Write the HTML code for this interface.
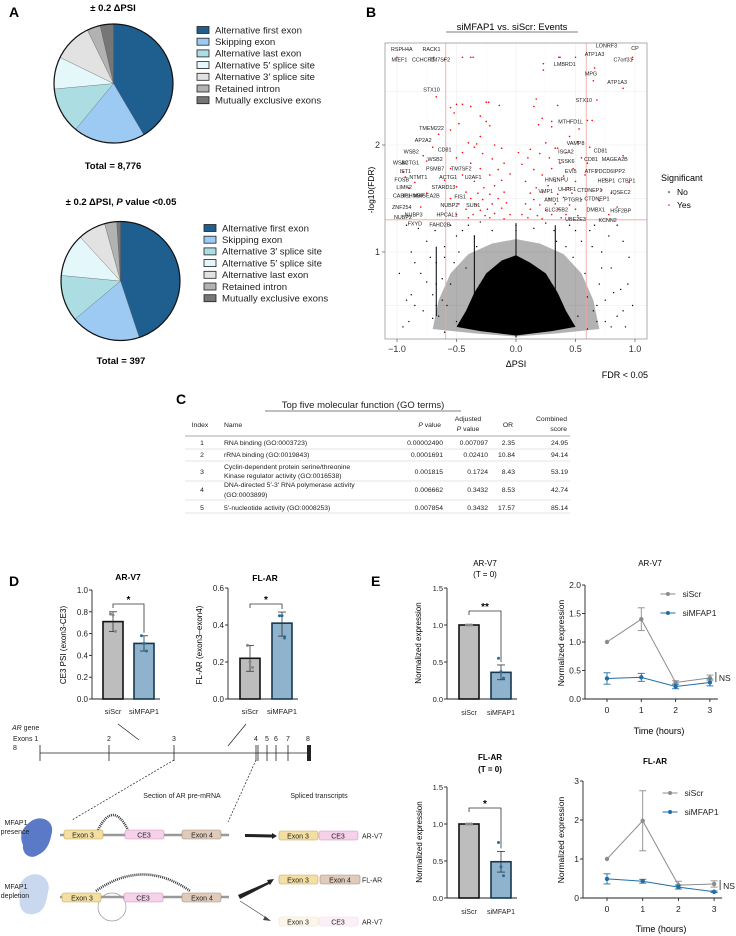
<!DOCTYPE html>
<html><head><meta charset="utf-8">
<style>
html,body{margin:0;padding:0;background:#fff;}
svg{display:block;font-family:"Liberation Sans",Arial,sans-serif;}
</style></head>
<body>
<svg id="fig" width="736" height="936" viewBox="0 0 736 936" xmlns="http://www.w3.org/2000/svg">
<rect x="0" y="0" width="736" height="936" fill="#fff"/>
<text x="9" y="17" font-size="14" font-weight="bold">A</text>
<text x="366" y="17" font-size="14" font-weight="bold">B</text>
<text x="176" y="404" font-size="14" font-weight="bold">C</text>
<text x="9" y="586" font-size="14" font-weight="bold">D</text>
<text x="371" y="586" font-size="14" font-weight="bold">E</text>

<g id="pA">
<text x="113" y="11" font-size="9.5" font-weight="bold" text-anchor="middle">± 0.2 ΔPSI</text>
<g id="pie1"></g>
<text x="113" y="169" font-size="9.5" font-weight="bold" text-anchor="middle">Total = 8,776</text>
<g id="leg1"></g>
<text x="121" y="205" font-size="9.5" font-weight="bold" text-anchor="middle">± 0.2 ΔPSI, <tspan font-style="italic">P</tspan> value &lt;0.05</text>
<g id="pie2"></g>
<text x="121" y="364" font-size="9.5" font-weight="bold" text-anchor="middle">Total = 397</text>
<g id="leg2"></g>
</g>

<g id="pB">
<text x="512" y="30" font-size="9.5" text-anchor="middle">siMFAP1 vs. siScr: Events</text>
<line x1="446" y1="32" x2="578" y2="32" stroke="#000" stroke-width="0.6"/>
<g id="volc"></g>
<text x="516" y="367" font-size="9" text-anchor="middle">ΔPSI</text>
<text x="0" y="0" font-size="8.5" text-anchor="middle" transform="translate(374,190) rotate(-90)">-log10(FDR)</text>
<text x="648" y="378" font-size="9" text-anchor="end">FDR &lt; 0.05</text>
<text x="661" y="181" font-size="9">Significant</text>
<circle cx="669" cy="192" r="0.8" fill="#000"/>
<text x="677" y="195" font-size="8.5">No</text>
<circle cx="669" cy="205" r="0.8" fill="#f00"/>
<text x="677" y="208" font-size="8.5">Yes</text>
</g>

<g id="pC" font-size="6.8" fill="#222">
<text x="363" y="408" font-size="9.5" text-anchor="middle">Top five molecular function (GO terms)</text>
<line x1="265" y1="411" x2="461" y2="411" stroke="#000" stroke-width="0.6"/>
<text x="200" y="427" text-anchor="middle">Index</text>
<text x="224" y="427">Name</text>
<text x="441" y="427" text-anchor="end"><tspan font-style="italic">P</tspan> value</text>
<text x="468" y="421" text-anchor="middle">Adjusted</text>
<text x="468" y="431" text-anchor="middle"><tspan font-style="italic">P</tspan> value</text>
<text x="508" y="427" text-anchor="middle">OR</text>
<text x="567" y="421" text-anchor="end">Combined</text>
<text x="567" y="431" text-anchor="end">score</text>
<line x1="185" y1="436" x2="570" y2="436" stroke="#555" stroke-width="0.6"/>
<g><text x="202" y="445" text-anchor="middle">1</text><text x="224" y="445">RNA binding (GO:0003723)</text><text x="443" y="445" text-anchor="end">0.00002490</text><text x="488" y="445" text-anchor="end">0.007097</text><text x="515" y="445" text-anchor="end">2.35</text><text x="568" y="445" text-anchor="end">24.95</text></g>
<line x1="185" y1="449" x2="570" y2="449" stroke="#ccc" stroke-width="0.5"/>
<g><text x="202" y="457" text-anchor="middle">2</text><text x="224" y="457">rRNA binding (GO:0019843)</text><text x="443" y="457" text-anchor="end">0.0001691</text><text x="488" y="457" text-anchor="end">0.02410</text><text x="515" y="457" text-anchor="end">10.84</text><text x="568" y="457" text-anchor="end">94.14</text></g>
<line x1="185" y1="461" x2="570" y2="461" stroke="#ccc" stroke-width="0.5"/>
<g><text x="202" y="474" text-anchor="middle">3</text><text x="224" y="469">Cyclin-dependent protein serine/threonine</text><text x="224" y="478">Kinase regulator activity (GO:0016538)</text><text x="443" y="474" text-anchor="end">0.001815</text><text x="488" y="474" text-anchor="end">0.1724</text><text x="515" y="474" text-anchor="end">8.43</text><text x="568" y="474" text-anchor="end">53.19</text></g>
<line x1="185" y1="481" x2="570" y2="481" stroke="#ccc" stroke-width="0.5"/>
<g><text x="202" y="492" text-anchor="middle">4</text><text x="224" y="487">DNA-directed 5′-3′ RNA polymerase activity</text><text x="224" y="497">(GO:0003899)</text><text x="443" y="492" text-anchor="end">0.006662</text><text x="488" y="492" text-anchor="end">0.3432</text><text x="515" y="492" text-anchor="end">8.53</text><text x="568" y="492" text-anchor="end">42.74</text></g>
<line x1="185" y1="500" x2="570" y2="500" stroke="#ccc" stroke-width="0.5"/>
<g><text x="202" y="510" text-anchor="middle">5</text><text x="224" y="510">5′-nucleotide activity (GO:0008253)</text><text x="443" y="510" text-anchor="end">0.007854</text><text x="488" y="510" text-anchor="end">0.3432</text><text x="515" y="510" text-anchor="end">17.57</text><text x="568" y="510" text-anchor="end">85.14</text></g>
<line x1="185" y1="513" x2="570" y2="513" stroke="#ccc" stroke-width="0.5"/>
</g>

<g id="pD">
<text x="128" y="580" font-size="8.5" font-weight="bold" text-anchor="middle">AR-V7</text>
<text x="265" y="581" font-size="8.5" font-weight="bold" text-anchor="middle">FL-AR</text>
<text font-size="8" text-anchor="middle" transform="translate(66,645) rotate(-90)">CE3 PSI (exon3-CE3)</text>
<text font-size="8" text-anchor="middle" transform="translate(202,645) rotate(-90)">FL-AR (exon3–exon4)</text>
<g id="barD1"></g>
<g id="barD2"></g>
</g>

<g id="gene" font-size="7" fill="#222">
<text x="12" y="730"><tspan font-style="italic">AR</tspan> gene</text>
<text x="13" y="741">Exons 1</text>
<text x="13" y="750">8</text>
<line x1="40" y1="753" x2="308" y2="753" stroke="#222" stroke-width="0.8"/>
<g stroke="#222" stroke-width="0.8">
<line x1="40" y1="745" x2="40" y2="761"/><line x1="109" y1="745" x2="109" y2="761"/><line x1="174" y1="745" x2="174" y2="761"/>
<line x1="256" y1="745" x2="256" y2="761"/><line x1="258" y1="745" x2="258" y2="761"/><line x1="267" y1="745" x2="267" y2="761"/><line x1="276" y1="745" x2="276" y2="761"/><line x1="288" y1="745" x2="288" y2="761"/>
</g>
<rect x="307" y="745" width="4" height="16" fill="#222"/>
<text x="109" y="741" text-anchor="middle">2</text><text x="174" y="741" text-anchor="middle">3</text><text x="256" y="741" text-anchor="middle">4</text><text x="267" y="741" text-anchor="middle">5</text><text x="276" y="741" text-anchor="middle">6</text><text x="288" y="741" text-anchor="middle">7</text><text x="308" y="741" text-anchor="middle">8</text>
<line x1="118" y1="724" x2="139" y2="740" stroke="#222" stroke-width="0.7"/>
<line x1="246" y1="724" x2="228" y2="746" stroke="#222" stroke-width="0.7"/>
<line x1="174" y1="760" x2="72" y2="820" stroke="#222" stroke-width="0.7" stroke-dasharray="2,1.5"/>
<line x1="256" y1="760" x2="228" y2="822" stroke="#222" stroke-width="0.7" stroke-dasharray="2,1.5"/>
<text x="182" y="798" text-anchor="middle">Section of AR pre-mRNA</text>
<text x="319" y="798" text-anchor="middle">Spliced transcripts</text>
<path d="M30 822 C40 814 54 820 52 832 C50 842 48 850 38 855 C30 860 22 854 23 845 C19 836 22 828 30 822Z" fill="#5a7ac8"/>
<text x="16" y="825" text-anchor="middle">MFAP1</text><text x="15" y="834" text-anchor="middle">presence</text>
<line x1="60" y1="835" x2="229" y2="835" stroke="#999" stroke-width="2.5"/>
<path d="M98 830 Q113 800 128 830" fill="none" stroke="#333" stroke-width="2.5" stroke-dasharray="1,1"/>
<rect x="64" y="830" width="39" height="9" rx="2" fill="#f3dfa2" stroke="#c8a85c" stroke-width="0.6"/>
<text x="83" y="837.5" text-anchor="middle">Exon 3</text>
<rect x="125" y="830" width="39" height="9" rx="2" fill="#f6d1ea" stroke="#d68fc3" stroke-width="0.6"/>
<text x="144" y="837.5" text-anchor="middle">CE3</text>
<rect x="182" y="830" width="39" height="9" rx="2" fill="#dfcbbb" stroke="#a98b76" stroke-width="0.6"/>
<text x="202" y="837.5" text-anchor="middle">Exon 4</text>
<path d="M245 834 L272 834.5 L272 833 L277 836 L272 839 L272 837.5 L245 837Z" fill="#222"/>
<rect x="279" y="831" width="39" height="9" rx="2" fill="#f3dfa2" stroke="#c8a85c" stroke-width="0.6"/>
<text x="298" y="838.5" text-anchor="middle">Exon 3</text>
<rect x="319" y="831" width="39" height="9" rx="2" fill="#f6d1ea" stroke="#d68fc3" stroke-width="0.6"/>
<text x="338" y="838.5" text-anchor="middle">CE3</text>
<text x="362" y="838.5">AR-V7</text>
<path d="M28 876 C40 870 52 880 48 892 C46 904 44 912 34 914 C24 916 18 908 20 898 C18 888 20 880 28 876Z" fill="#c9d7ef"/>
<text x="16" y="889" text-anchor="middle">MFAP1</text><text x="15" y="898" text-anchor="middle">depletion</text>
<line x1="60" y1="897" x2="229" y2="897" stroke="#999" stroke-width="2.5"/>
<path d="M96 891 Q143 858 190 891" fill="none" stroke="#333" stroke-width="2.5" stroke-dasharray="1,1"/>
<circle cx="112" cy="907" r="14" fill="none" stroke="#999" stroke-width="0.7"/>
<rect x="62" y="893" width="39" height="9" rx="2" fill="#f3dfa2" stroke="#c8a85c" stroke-width="0.6"/>
<text x="82" y="900.5" text-anchor="middle">Exon 3</text>
<rect x="124" y="893" width="39" height="9" rx="2" fill="#f6d1ea" stroke="#d68fc3" stroke-width="0.6"/>
<text x="143" y="900.5" text-anchor="middle">CE3</text>
<rect x="182" y="893" width="39" height="9" rx="2" fill="#dfcbbb" stroke="#a98b76" stroke-width="0.6"/>
<text x="202" y="900.5" text-anchor="middle">Exon 4</text>
<path d="M238 895 L268 882 L267 880 L274 879 L270 885 L269 884 L240 899Z" fill="#222"/>
<line x1="240" y1="901" x2="268" y2="919" stroke="#444" stroke-width="0.6"/>
<path d="M265 916 L271 921 L263 920Z" fill="#444"/>
<rect x="279" y="875" width="39" height="9" rx="2" fill="#f3dfa2" stroke="#c8a85c" stroke-width="0.6"/>
<text x="298" y="882.5" text-anchor="middle">Exon 3</text>
<rect x="320" y="875" width="40" height="9" rx="2" fill="#dfcbbb" stroke="#a98b76" stroke-width="0.6"/>
<text x="340" y="882.5" text-anchor="middle">Exon 4</text>
<text x="362" y="882.5">FL-AR</text>
<rect x="279" y="917" width="39" height="9" rx="2" fill="#fbf6e8" stroke="#efe5c8" stroke-width="0.6"/>
<text x="298" y="924.5" text-anchor="middle">Exon 3</text>
<rect x="319" y="917" width="39" height="9" rx="2" fill="#fcf0f8" stroke="#f3dcec" stroke-width="0.6"/>
<text x="338" y="924.5" text-anchor="middle">CE3</text>
<text x="362" y="924.5">AR-V7</text>
</g>

<g id="pE">
<text x="485" y="566" font-size="8" text-anchor="middle">AR-V7</text>
<text x="485" y="577" font-size="8" text-anchor="middle">(T = 0)</text>
<text x="650" y="566" font-size="8" text-anchor="middle">AR-V7</text>
<text x="490" y="760" font-size="8" font-weight="bold" text-anchor="middle">FL-AR</text>
<text x="490" y="772" font-size="8" font-weight="bold" text-anchor="middle">(T = 0)</text>
<text x="655" y="764" font-size="8" font-weight="bold" text-anchor="middle">FL-AR</text>
<text font-size="8" text-anchor="middle" transform="translate(421,643) rotate(-90)">Normalized expression</text>
<text font-size="8" text-anchor="middle" transform="translate(422,842) rotate(-90)">Normalized expression</text>
<text font-size="8.5" text-anchor="middle" transform="translate(564,643) rotate(-90)">Normalized expression</text>
<text font-size="8.5" text-anchor="middle" transform="translate(564,840) rotate(-90)">Normalized expression</text>
<text x="659" y="734" font-size="9" text-anchor="middle">Time (hours)</text>
<text x="661" y="932" font-size="9" text-anchor="middle">Time (hours)</text>
<g id="barE1"></g>
<g id="barE2"></g>
<g id="lineE1"></g>
<g id="lineE2"></g>
</g>
</svg>

<script>
const pieCategories1 = ["Alternative first exon","Skipping exon","Alternative last exon","Alternative 5′ splice site","Alternative 3′ splice site","Retained intron","Mutually exclusive exons"];
const pieValues1 = [41.4,19.4,12.5,8.7,10.5,3.6,3.6];
const pieCategories2 = ["Alternative first exon","Skipping exon","Alternative 3′ splice site","Alternative 5′ splice site","Alternative last exon","Retained intron","Mutually exclusive exons"];
const pieValues2 = [44.9,19.0,12.6,11.7,7.5,3.3,1.0];

const volcanoXTicks = [-1.0,-0.5,0.0,0.5,1.0];
const volcanoYTicks = [1,2];
const sigRedX = [-1.0,-0.69,-0.6,-0.45,-0.38,-0.36,0.36,0.37,0.5,0.98,0.98,0.66,0.23,0.23,0.65,0.9,-0.67,0.17,0.68,-0.5,-0.45,-0.25,-0.23,-0.14,-0.38,0.35,-0.55,0.15,-0.52,-0.3,-0.25,0.22,0.3,0.6,0.64,-0.48,0.19,-0.22,0.3,-0.55,0.53,-0.65,-0.3,0.45,-0.4,-0.33,-0.18,0.25,0.52,-0.7,-0.35,-0.12,0.12,0.33,0.35,0.62,-0.45,-0.28,0.02,0.2,0.42,-0.5,-0.2,0.1,0.28,0.55,-0.38,-0.1,0.05,0.37,0.6,-0.55,-0.3,-0.15,0.15,0.3,0.48,-0.45,-0.22,-0.05,0.22,0.4,0.58,-0.6,-0.35,-0.12,0.08,0.33,0.5,-0.5,-0.27,-0.18,0.17,0.27,0.44,-0.42,-0.32,-0.22,-0.1,0.12,0.22,0.35,0.47,-0.55,-0.38,-0.28,-0.15,0.15,0.28,0.4,0.55,-0.48,-0.33,-0.2,-0.08,0.08,0.2,0.33,0.45,-0.42,-0.3,-0.24,-0.12,0.12,0.25,0.36,0.5,-0.5,-0.36,-0.26,-0.18,-0.05,0.05,0.18,0.3,0.42,0.52,-0.4,-0.22,-0.1,0.1,0.22,0.38,-0.8,-0.9,-0.93,-0.95,-0.75,-0.85,0.75,0.8,0.85,0.78,0.72,0.9,0.95,-0.78,-0.75,0.7];
const sigRedY = [2.82,2.82,2.8,2.82,2.82,2.82,2.82,2.82,2.82,2.8,2.82,2.72,2.76,2.7,2.6,2.53,2.45,2.43,2.42,2.38,2.38,2.4,2.4,2.37,2.36,2.37,2.35,2.36,2.3,2.27,2.22,2.25,2.22,2.23,2.23,2.2,2.19,2.18,2.17,2.14,2.15,2.1,2.08,2.08,2.02,2.01,2.0,2.02,2.03,1.98,1.98,1.97,1.96,1.97,1.97,1.98,1.93,1.92,1.93,1.92,1.93,1.88,1.87,1.88,1.88,1.88,1.83,1.83,1.82,1.83,1.83,1.78,1.78,1.77,1.77,1.78,1.78,1.72,1.72,1.73,1.72,1.71,1.72,1.67,1.66,1.67,1.66,1.66,1.66,1.61,1.6,1.62,1.6,1.62,1.6,1.56,1.55,1.54,1.56,1.55,1.56,1.54,1.55,1.5,1.5,1.49,1.5,1.49,1.5,1.51,1.49,1.45,1.44,1.45,1.46,1.45,1.44,1.45,1.44,1.4,1.39,1.4,1.41,1.4,1.39,1.4,1.4,1.35,1.35,1.34,1.36,1.35,1.35,1.34,1.35,1.35,1.34,1.32,1.32,1.31,1.32,1.31,1.32,1.42,1.6,1.7,1.75,1.85,1.65,1.68,1.55,1.42,1.35,1.58,1.9,1.65,1.9,1.55,1.48];
const nsBlackX = [-0.95,-0.9,-0.85,-0.8,-0.75,-0.7,-0.72,-0.68,-0.65,-0.62,-0.6,-0.58,-0.55,-0.52,-0.5,-0.48,-0.45,-0.42,-0.4,-0.6,0.6,0.65,0.7,0.72,0.75,0.78,0.8,0.85,0.88,0.92,0.95,0.98,0.55,0.5,0.48,0.45,0.42,0.58,0.62,0.68,-0.92,-0.88,-0.98,-0.82,0.85,0.9,0.66,-0.67,-0.67,-0.67,0.32,0.34,-0.35,-0.33,0.0,0.0,-0.3,0.25,0.15,-0.2,-0.88,-0.78,-0.7,-0.62,-0.55,-0.5,0.52,0.6,0.68,0.75,0.82,0.9,-0.85,0.8,-0.75,0.72,-0.92,0.94,-0.6,0.64];
const nsBlackY = [0.3,0.35,0.5,0.8,1.1,0.6,0.95,1.2,0.4,0.75,1.05,0.5,1.25,0.9,1.15,1.0,1.2,0.85,1.25,0.25,0.28,0.45,0.7,1.0,0.55,1.15,0.85,0.4,0.65,0.3,0.95,0.5,1.1,1.2,0.95,1.25,1.05,0.8,1.2,0.35,1.25,1.0,0.8,1.22,1.25,1.1,1.25,0.5,0.7,0.9,1.2,1.1,1.15,1.05,1.25,1.2,1.28,1.27,1.22,1.2,0.6,0.45,0.38,0.55,0.7,0.35,0.4,0.58,0.5,0.35,0.62,0.45,0.9,0.3,0.72,0.85,0.55,0.7,0.95,1.05];
const coreOutlineX = [-0.5,-0.42,-0.35,-0.25,-0.12,0,0.12,0.25,0.35,0.42,0.5,0.3,0,-0.3];
const coreOutlineY = [0.3,0.45,0.62,0.8,0.92,0.97,0.9,0.8,0.62,0.45,0.3,0.26,0.22,0.26];
const haloOutlineX = [-0.7,-0.65,-0.55,-0.4,-0.2,0,0.2,0.4,0.55,0.65,0.7,0.35,0,-0.35];
const haloOutlineY = [0.28,0.55,0.8,0.98,1.08,1.12,1.08,0.98,0.8,0.55,0.28,0.24,0.21,0.24];
const geneLabels = ["RSPH4A","RACK1","MIEF1","CCHCR1","TM7SF2","LONRF3","CP","ATP1A3","C7orf31","LMBRD1","MPG","ATP1A3","STX10","STX10","MTHFD1L","TMEM222","AP2A2","VAMP8","WSB2","CD81","ISCA2","CD81","WSB2","ACTG1","WSB2","TSSK6","CD81","MAGEA2B","IST1","PSMB7","TM7SF2","EVI5","ATF1","PDCD6IPP2","FOSB","NTMT1","ACTG1","U2AF1","HNRNPU","HEBP1","CTBP1","LIMK2","STARD13","VMP1","UHRF1","CTDNEP1","IQSEC2","CABP1","IGHMBP","MAGEA2B","FIS1","AMD1","PTGR1","CTDNEP1","ZNF254","NUBP2","SUB1","SLC35B2","DMBX1","HSF2BP","NUBP2","NUBP3","HPCAL1","UBE2E3","KCNN2","FXYD","FAHD2B"];
const geneLabelDpsi = [-0.96,-0.71,-0.98,-0.78,-0.64,0.76,1.0,0.66,0.9,0.41,0.63,0.85,-0.71,0.57,0.46,-0.71,-0.78,0.5,-0.88,-0.6,0.42,0.71,-0.97,-0.89,-0.68,0.42,0.63,0.83,-0.93,-0.68,-0.46,0.46,0.63,0.79,-0.96,-0.82,-0.57,-0.36,0.34,0.76,0.93,-0.94,-0.61,0.25,0.43,0.62,0.88,-0.96,-0.86,-0.75,-0.47,0.3,0.48,0.68,-0.96,-0.56,-0.36,0.34,0.67,0.88,-0.95,-0.86,-0.58,0.5,0.77,-0.85,-0.64];
const geneLabelFdr = [2.88,2.88,2.78,2.78,2.78,2.91,2.89,2.83,2.78,2.74,2.65,2.57,2.5,2.4,2.2,2.14,2.03,2.0,1.92,1.94,1.92,1.93,1.82,1.82,1.85,1.83,1.85,1.85,1.74,1.76,1.76,1.74,1.74,1.74,1.66,1.68,1.68,1.68,1.66,1.65,1.65,1.59,1.59,1.55,1.57,1.56,1.54,1.51,1.51,1.51,1.5,1.47,1.47,1.48,1.4,1.42,1.42,1.38,1.38,1.37,1.31,1.33,1.33,1.29,1.28,1.25,1.24];

const barCats = ["siScr","siMFAP1"];
const d1Ticks = [0.0,0.2,0.4,0.6,0.8,1.0];
const d1Means = [0.71,0.51]; const d1Lo=[0.62,0.44]; const d1Hi=[0.80,0.58];
const d1Points = [[0.78,0.77,0.62],[0.58,0.51,0.44]];
const d2Ticks = [0.0,0.2,0.4,0.6];
const d2Means = [0.22,0.41]; const d2Lo=[0.15,0.34]; const d2Hi=[0.29,0.47];
const d2Points = [[0.29,0.20,0.17],[0.45,0.45,0.33]];
const e1Ticks = [0.0,0.5,1.0,1.5];
const e1Means = [1.0,0.36]; const e1Lo=[1.0,0.26]; const e1Hi=[1.0,0.46];
const e1Points = [[1.0,1.0,1.0],[0.55,0.37,0.28]];
const e2Ticks = [0.0,0.5,1.0,1.5];
const e2Means = [1.0,0.49]; const e2Lo=[1.0,0.35]; const e2Hi=[1.0,0.63];
const e2Points = [[1.0,1.0,1.0],[0.75,0.42,0.30]];

const timeHours = [0,1,2,3];
const l1Ticks = [0.0,0.5,1.0,1.5,2.0];
const l1Scr = [1.0,1.4,0.29,0.37]; const l1ScrErr=[0,0.2,0.03,0.05];
const l1Mf = [0.36,0.38,0.22,0.29]; const l1MfErr=[0.1,0.07,0.04,0.06];
const l2Ticks = [0,1,2,3];
const l2Scr = [1.0,1.98,0.33,0.36]; const l2ScrErr=[0,0.77,0.1,0.08];
const l2Mf = [0.49,0.43,0.28,0.16]; const l2MfErr=[0.13,0.05,0.05,0.02];

const NS="http://www.w3.org/2000/svg";
function mk(parent, tag, attrs, txt){const e=document.createElementNS(NS,tag);for(const k in attrs)e.setAttribute(k,attrs[k]);if(txt!==undefined)e.textContent=txt;parent.appendChild(e);return e;}
const pieColors=["#1f5f8f","#9dcaf3","#abdde2","#e4f8fc","#e2e2e2","#b2b2b2","#767676"];

function drawPie(gid, cx, cy, r, vals){
  const g=document.getElementById(gid); const tot=vals.reduce((a,b)=>a+b,0); let a=-Math.PI/2;
  vals.forEach((v,i)=>{const a2=a+v/tot*2*Math.PI;const large=(a2-a)>Math.PI?1:0;
    const d=`M${cx},${cy} L${cx+r*Math.cos(a)},${cy+r*Math.sin(a)} A${r},${r} 0 ${large} 1 ${cx+r*Math.cos(a2)},${cy+r*Math.sin(a2)} Z`;
    const p=mk(g,"path",{d:d,fill:pieColors[i],stroke:"#555","stroke-width":0.3});
    
    
    a=a2;});
  const c=mk(g,"circle",{cx:cx,cy:cy,r:r,fill:"none",stroke:"#111","stroke-width":1.2});
  
  
}
function drawLegend(gid, x, y0, cats){
  const g=document.getElementById(gid);
  cats.forEach((c,i)=>{const y=y0+i*11.7;
    const r=mk(g,"rect",{x:x,y:y-3.5,width:12,height:7,fill:pieColors[i],stroke:"#222","stroke-width":0.8});
    
    
    const t=mk(g,"text",{x:x+18,y:y+3.3,"font-size":9.6,fill:"#222"},c);
    
    });
}
drawPie("pie1",113.5,83.5,59.5,pieValues1);
drawPie("pie2",120.5,281,59.5,pieValues2);
drawLegend("leg1",197,30,pieCategories1);
drawLegend("leg2",204,228,pieCategories2);

(function(){
  const g=document.getElementById("volc");
  const L=385,R=647,T=43,B=339;
  const X=v=>516+119*v, Y=v=>359-107*v;
  mk(g,"rect",{x:L,y:T,width:R-L,height:B-T,fill:"#fff"});
  [-1,-0.5,0,0.5,1].forEach(v=>mk(g,"line",{x1:X(v),x2:X(v),y1:T,y2:B,stroke:"#ececec","stroke-width":0.6}));
  [-0.75,-0.25,0.25,0.75].forEach(v=>mk(g,"line",{x1:X(v),x2:X(v),y1:T,y2:B,stroke:"#f5f5f5","stroke-width":0.4}));
  [0.5,1,1.5,2,2.5].forEach(v=>mk(g,"line",{x1:L,x2:R,y1:Y(v),y2:Y(v),stroke:"#ececec","stroke-width":0.6}));
  const halo=haloOutlineX.map((x,i)=>X(x)+","+Y(haloOutlineY[i])).join(" ");
  const hp=mk(g,"polygon",{points:halo,fill:"#000","fill-opacity":0.3});
  
  
  const core=coreOutlineX.map((x,i)=>X(x)+","+Y(coreOutlineY[i])).join(" ");
  const cp=mk(g,"polygon",{points:core,fill:"#000"});
  
  
  [[-0.35,0.4,1.15],[0,0.2,1.27],[0.33,0.4,1.25],[-0.67,0.4,1.05]].forEach(s=>mk(g,"line",{x1:X(s[0]),x2:X(s[0]),y1:Y(s[1]),y2:Y(s[2]),stroke:"#000","stroke-width":1}));
  nsBlackX.forEach((x,i)=>{const c=mk(g,"circle",{cx:X(x),cy:Y(nsBlackY[i]),r:0.7,fill:"#000"});
    
    });
  sigRedX.forEach((x,i)=>{const c=mk(g,"circle",{cx:X(x),cy:Y(sigRedY[i]),r:0.8,fill:"#f00"});
    
    });
  [-0.59,0.59].forEach(v=>mk(g,"line",{x1:X(v),x2:X(v),y1:T,y2:B,stroke:"#f4a0a0","stroke-width":0.8}));
  mk(g,"line",{x1:L,x2:R,y1:Y(1.301),y2:Y(1.301),stroke:"#f4a0a0","stroke-width":0.8});
  geneLabels.forEach((n,i)=>{const t=mk(g,"text",{x:X(geneLabelDpsi[i]),y:Y(geneLabelFdr[i]),"font-size":5.4,fill:"#222","text-anchor":"middle"},n);
    
    });
  mk(g,"rect",{x:L,y:T,width:R-L,height:B-T,fill:"none",stroke:"#999","stroke-width":0.8});
  volcanoXTicks.forEach(v=>{mk(g,"line",{x1:X(v),x2:X(v),y1:B,y2:B+3,stroke:"#555","stroke-width":0.7});
    const t=mk(g,"text",{x:X(v),y:B+13,"font-size":9,"text-anchor":"middle",fill:"#333"},v===0?"0.0":(v<0?"−":"")+Math.abs(v).toFixed(1));
    
    });
  volcanoYTicks.forEach(v=>{mk(g,"line",{x1:L-3,x2:L,y1:Y(v),y2:Y(v),stroke:"#555","stroke-width":0.7});
    const t=mk(g,"text",{x:L-5,y:Y(v)+3,"font-size":9,"text-anchor":"end",fill:"#333"},String(v));
    
    });
})();

function barChart(gid, axX, y0, top, ymax, ticks, means, lo, hi, pts, xs, bw, stars, brY, lblY, tickDec, lblSize){
  const g=document.getElementById(gid);
  const Y=v=>y0-(y0-top)*v/ymax;
  mk(g,"line",{x1:axX,x2:axX,y1:top,y2:y0,stroke:"#222","stroke-width":0.9});
  ticks.forEach(v=>{mk(g,"line",{x1:axX-3,x2:axX,y1:Y(v),y2:Y(v),stroke:"#222","stroke-width":0.9});
    const t=mk(g,"text",{x:axX-4,y:Y(v)+3,"font-size":lblSize,"text-anchor":"end",fill:"#222"},v.toFixed(tickDec));
    
    });
  mk(g,"line",{x1:axX,x2:xs[1]+bw/2+6,y1:y0,y2:y0,stroke:"#222","stroke-width":0.9});
  const fills=["#bdbdbd","#8fb3cc"], strokes=["#111","#17384f"], dots=["#888","#1f6fa5"];
  means.forEach((m,i)=>{
    const r=mk(g,"rect",{x:xs[i]-bw/2,y:Y(m),width:bw,height:y0-Y(m),fill:fills[i],stroke:strokes[i],"stroke-width":1.6});
    
    
    mk(g,"line",{x1:xs[i],x2:xs[i],y1:Y(lo[i]),y2:Y(hi[i]),stroke:"#333","stroke-width":0.8});
    mk(g,"line",{x1:xs[i]-4,x2:xs[i]+4,y1:Y(lo[i]),y2:Y(lo[i]),stroke:"#333","stroke-width":0.8});
    mk(g,"line",{x1:xs[i]-4,x2:xs[i]+4,y1:Y(hi[i]),y2:Y(hi[i]),stroke:"#333","stroke-width":0.8});
    pts[i].forEach((p,j)=>{const c=mk(g,"circle",{cx:xs[i]+(j-1)*2.5,cy:Y(p),r:1.5,fill:dots[i]});
      
      });
    const t=mk(g,"text",{x:xs[i],y:lblY,"font-size":lblSize-0.5,"text-anchor":"middle",fill:"#222"},barCats[i]);
    
    
  });
  const br=mk(g,"path",{d:`M${xs[0]},${brY+4} V${brY} H${xs[1]} V${Y(hi[1])-3}`,fill:"none",stroke:"#333","stroke-width":0.8});
  
  
  const s=mk(g,"text",{x:(xs[0]+xs[1])/2,y:brY-1,"font-size":10,"font-weight":"bold","text-anchor":"middle"},stars);
  
  
}
barChart("barD1",92,699,590,1.0,d1Ticks,d1Means,d1Lo,d1Hi,d1Points,[113,144],20,"*",604,714,1,8);
barChart("barD2",228,699,588,0.6,d2Ticks,d2Means,d2Lo,d2Hi,d2Points,[250,282],20,"*",604,714,1,8);
barChart("barE1",447,699,588,1.5,e1Ticks,e1Means,e1Lo,e1Hi,e1Points,[469,501],20,"**",611,715,1,7.5);
barChart("barE2",447,898,787,1.5,e2Ticks,e2Means,e2Lo,e2Hi,e2Points,[469,501],20,"*",808,914,1,7.5);

function lineChart(gid, axX, y0, top, ymax, ticks, x0, dx, scr, scrE, mf, mfE, legY, nsY, tickDec){
  const g=document.getElementById(gid);
  const Y=v=>y0-(y0-top)*v/ymax, X=t=>x0+dx*t;
  mk(g,"line",{x1:axX,x2:axX,y1:top,y2:y0,stroke:"#222","stroke-width":0.9});
  mk(g,"line",{x1:axX,x2:X(3)+8,y1:y0,y2:y0,stroke:"#222","stroke-width":0.9});
  ticks.forEach(v=>{mk(g,"line",{x1:axX-3,x2:axX,y1:Y(v),y2:Y(v),stroke:"#222","stroke-width":0.9});
    const t=mk(g,"text",{x:axX-4,y:Y(v)+3,"font-size":8.5,"text-anchor":"end",fill:"#222"},v.toFixed(tickDec));
    
    });
  timeHours.forEach(h=>{mk(g,"line",{x1:X(h),x2:X(h),y1:y0,y2:y0+3,stroke:"#222","stroke-width":0.9});
    const t=mk(g,"text",{x:X(h),y:y0+14,"font-size":8.5,"text-anchor":"middle",fill:"#222"},String(h));
    
    });
  [[scr,scrE,"#8c8c8c","siScr"],[mf,mfE,"#1f6fa5","siMFAP1"]].forEach((s,k)=>{
    const pl=mk(g,"polyline",{points:timeHours.map((h,i)=>X(h)+","+Y(s[0][i])).join(" "),fill:"none",stroke:s[2],"stroke-width":1});
    
    
    timeHours.forEach((h,i)=>{
      if(s[1][i]>0){mk(g,"line",{x1:X(h),x2:X(h),y1:Y(s[0][i]-s[1][i]),y2:Y(s[0][i]+s[1][i]),stroke:s[2],"stroke-width":0.9});
        [s[0][i]-s[1][i],s[0][i]+s[1][i]].forEach(v=>mk(g,"line",{x1:X(h)-3.5,x2:X(h)+3.5,y1:Y(v),y2:Y(v),stroke:s[2],"stroke-width":0.9}));}
      const c=mk(g,"circle",{cx:X(h),cy:Y(s[0][i]),r:2.2,fill:s[2]});
      
      });
    const ly=legY+k*19;
    mk(g,"line",{x1:X(1.5)+2,x2:X(1.5)+17,y1:ly,y2:ly,stroke:s[2],"stroke-width":1});
    mk(g,"circle",{cx:X(1.5)+9.5,cy:ly,r:2,fill:s[2]});
    const t=mk(g,"text",{x:X(1.5)+24,y:ly+3,"font-size":8.5,fill:"#222"},s[3]);
    
    
  });
  mk(g,"line",{x1:X(3)+6,x2:X(3)+6,y1:nsY-8,y2:nsY+2,stroke:"#222","stroke-width":0.8});
  const ns=mk(g,"text",{x:X(3)+9,y:nsY+1,"font-size":8.5,fill:"#222"},"NS");
  
  
}
lineChart("lineE1",585,699,585,2.0,l1Ticks,607,34.3,l1Scr,l1ScrErr,l1Mf,l1MfErr,594,680,1);
lineChart("lineE2",583,898,781,3,l2Ticks,607,35.7,l2Scr,l2ScrErr,l2Mf,l2MfErr,793,888,0);
</script>
</body></html>
